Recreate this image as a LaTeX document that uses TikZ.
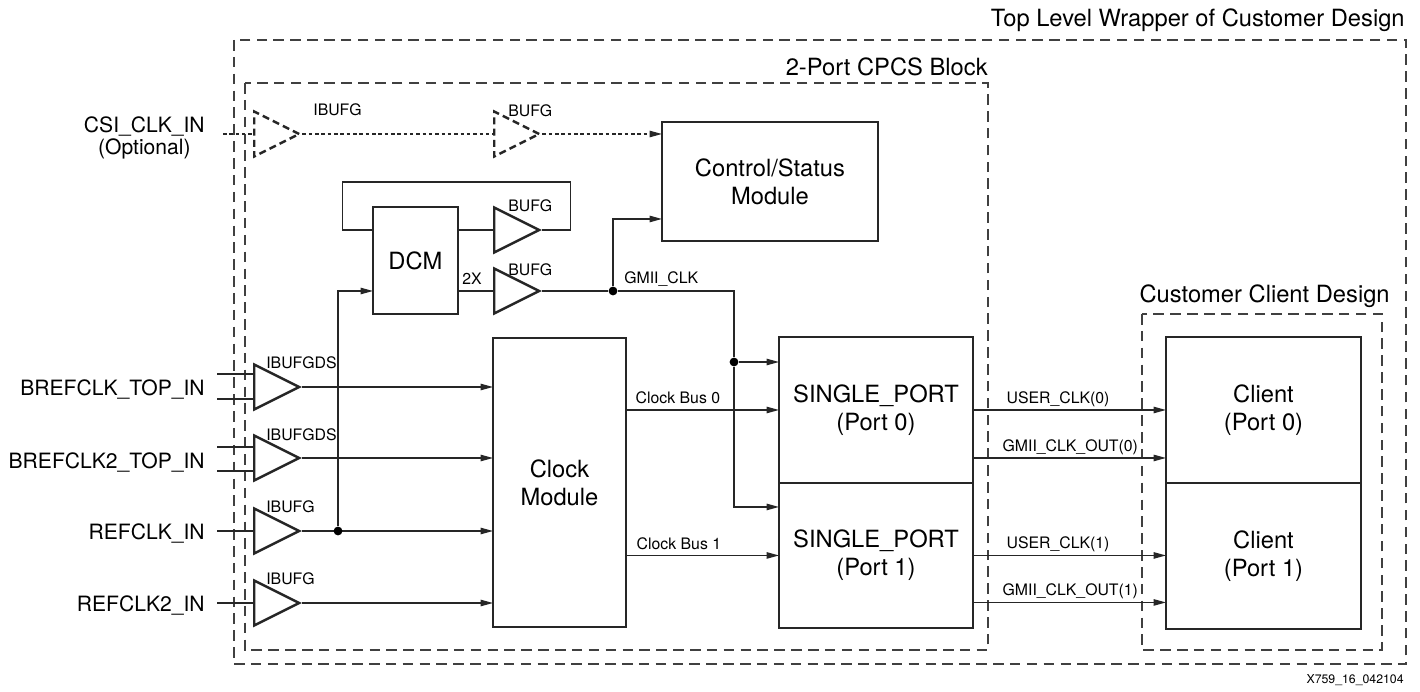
\documentclass[tikz,border=0pt]{standalone}
\usepackage{fontspec}
\setmainfont{TeX Gyre Heros}
\usetikzlibrary{arrows.meta,shapes.geometric}

\tikzset{
  wire/.style={draw=black!85, line width=0.8pt},
  arr/.style={wire, -{Triangle[length=7pt,width=3.6pt]}},
  dwire/.style={wire, dash pattern=on 2pt off 1.6pt},
  darr/.style={dwire, -{Triangle[length=7pt,width=3.6pt]}},
  block/.style={draw=black!85, line width=0.8pt, rectangle, inner sep=0, outer sep=0, align=center,
    anchor=north west, font=\fontsize{13.5}{16}\selectfont},
  frame/.style={draw=black!75, line width=0.8pt, dash pattern=on 6pt off 3.6pt},
  buf/.style={draw=black!85, line width=1.4pt, isosceles triangle, isosceles triangle stretches,
    inner sep=0, minimum width=0.9cm, minimum height=0.9cm, anchor=west},
  dbuf/.style={buf, dash pattern=on 4pt off 2.4pt},
  lbl/.style={font=\fontsize{9}{11}\selectfont, inner sep=0},
  pin/.style={font=\fontsize{12}{13}\selectfont, inner sep=0, align=center},
  title/.style={font=\fontsize{13.5}{16}\selectfont, inner sep=0, anchor=base east},
  dot/.style={circle, fill=black, inner sep=0, minimum size=5pt},
}

\begin{document}
\begin{tikzpicture}[x=0.02cm, y=-0.02cm]
  \useasboundingbox (0,0) rectangle (1420,692);

  % frames
  \draw[frame] (234,40) rectangle (1406,664);
  \draw[frame] (245,83) rectangle (988,650);
  \draw[frame] (1142,314) rectangle (1382,650);
  \node[title] (ttop) at (1405,27) {Top Level Wrapper of Customer Design};
  \node[title] (tcpcs) at (988,76) {2-Port CPCS Block};
  \node[title] (tccd) at (1390,303) {Customer Client Design};

  % blocks
  \node[block, minimum width=4.32cm, minimum height=2.38cm] (ctrl) at (662,122) {Control/Status\\Module};
  \node[block, minimum width=1.7cm, minimum height=2.14cm] (dcm) at (373,207) {DCM};
  \node[block, minimum width=2.66cm, minimum height=5.78cm] (clk) at (493,338) {Clock\\Module};
  \node[block, minimum width=3.88cm, minimum height=2.92cm] (sp0) at (779,337) {SINGLE\_PORT\\(Port 0)};
  \node[block, minimum width=3.88cm, minimum height=2.9cm] (sp1) at (sp0.south west) {SINGLE\_PORT\\(Port 1)};
  \node[block, minimum width=3.9cm, minimum height=2.92cm] (cl0) at (1166,337) {Client\\(Port 0)};
  \node[block, minimum width=3.9cm, minimum height=2.92cm] (cl1) at (cl0.south west) {Client\\(Port 1)};

  % buffers
  \node[dbuf] (ib0) at (253,134) {};
  \node[dbuf] (bg0) at (493,134) {};
  \node[buf] (bg1) at (493,230) {};
  \node[buf] (bg2) at (493,291) {};
  \node[buf] (b1) at (253,387) {};
  \node[buf] (b2) at (253,458) {};
  \node[buf] (b3) at (253,531) {};
  \node[buf] (b4) at (253,603) {};

  \node[lbl, anchor=west] (lib0) at (313,110) {IBUFG};
  \node[lbl, anchor=west] (lbg0) at (508,111) {BUFG};
  \node[lbl, anchor=west] (lbg1) at (508,206) {BUFG};
  \node[lbl, anchor=west] (lbg2) at (508,270) {BUFG};
  \node[lbl, anchor=west] (lb1) at (266,363) {IBUFGDS};
  \node[lbl, anchor=west] (lb2) at (266,435) {IBUFGDS};
  \node[lbl, anchor=west] (lb3) at (266,507) {IBUFG};
  \node[lbl, anchor=west] (lb4) at (266,579) {IBUFG};
  \node[lbl, anchor=west] (l2x) at (462,279) {2X};
  \node[lbl, anchor=west] (lgmii) at (624,279) {GMII\_CLK};

  % pins
  \node[pin, anchor=east] (pcsi) at (205,138) {CSI\_CLK\_IN\\(Optional)};
  \node[pin, anchor=base east] (pb1) at (205,396) {BREFCLK\_TOP\_IN};
  \node[pin, anchor=base east] (pb2) at (205,468) {BREFCLK2\_TOP\_IN};
  \node[pin, anchor=base east] (pb3) at (205,539) {REFCLK\_IN};
  \node[pin, anchor=base east] (pb4) at (205,611) {REFCLK2\_IN};
  \coordinate (icsi) at (223,134);
  \coordinate (i1a) at (217,374);
  \coordinate (i1b) at (217,399);
  \coordinate (i2a) at (217,447);
  \coordinate (i2b) at (217,471);
  \coordinate (i3) at (217,531);
  \coordinate (i4) at (217,603);

  % optional clock path
  \draw[dwire] (icsi) -- (ib0.west);
  \draw[dwire] (ib0.east) -- (bg0.west);
  \draw[darr] (bg0.east) -- (bg0.east -| ctrl.west);

  % input wires
  \draw[wire] (i1a) -- (i1a -| b1.west);
  \draw[wire] (i1b) -- (i1b -| b1.west);
  \draw[wire] (i2a) -- (i2a -| b2.west);
  \draw[wire] (i2b) -- (i2b -| b2.west);
  \draw[wire] (i3) -- (b3.west);
  \draw[wire] (i4) -- (b4.west);
  \draw[arr] (b1.east) -- (b1.east -| clk.west);
  \draw[arr] (b2.east) -- (b2.east -| clk.west);
  \draw[arr] (b3.east) -- (b3.east -| clk.west);
  \draw[arr] (b4.east) -- (b4.east -| clk.west);

  % DCM
  \node[dot] (j1) at (338,531) {};
  \draw[arr] (j1) |- (bg2.west -| dcm.west);
  \draw[wire] (dcm.east |- bg1.west) -- (bg1.west);
  \draw[wire] (dcm.east |- bg2.west) -- (bg2.west);
  \draw[wire] (bg1.east) -- ++(28,0) -- ++(0,-48) -- ++(-228,0) -- ++(0,48) -- (bg1.east -| dcm.west);

  % GMII_CLK
  \node[dot] (j2) at (613,291) {};
  \node[dot] (j3) at (734,362) {};
  \draw[wire] (bg2.east) -- (j2);
  \draw[arr] (j2) |- ([yshift=0.44cm]ctrl.south west);
  \draw[wire] (j2) -| (j3);
  \draw[arr] (j3) -- (j3 -| sp0.west);
  \draw[arr] (j3) |- ([yshift=-0.48cm]sp1.north west);

  % clock buses
  \draw[arr] (clk.east |- sp0.west) -- (sp0.west)
    node[lbl, pos=0, anchor=base west, xshift=0.18cm, yshift=0.12cm] {Clock Bus 0};
  \draw[arr] (clk.east |- sp1.west) -- (sp1.west)
    node[lbl, pos=0, anchor=base west, xshift=0.2cm, yshift=0.12cm] {Clock Bus 1};

  % outputs to client
  \draw[arr] (sp0.east) -- (sp0.east -| cl0.west)
    node[lbl, pos=0, anchor=base west, xshift=0.66cm, yshift=0.13cm] {USER\_CLK(0)};
  \draw[arr] ([yshift=-0.96cm]sp0.east) -- ([yshift=-0.96cm]sp0.east -| cl0.west)
    node[lbl, pos=0, anchor=base west, xshift=0.58cm, yshift=0.13cm] {GMII\_CLK\_OUT(0)};
  \draw[arr] (sp1.east) -- (sp1.east -| cl1.west)
    node[lbl, pos=0, anchor=base west, xshift=0.66cm, yshift=0.13cm] {USER\_CLK(1)};
  \draw[arr] ([yshift=-0.94cm]sp1.east) -- ([yshift=-0.94cm]sp1.east -| cl1.west)
    node[lbl, pos=0, anchor=base west, xshift=0.58cm, yshift=0.13cm] {GMII\_CLK\_OUT(1)};

  \node[inner sep=0, anchor=base east, font=\fontsize{7}{8}\selectfont] (fig) at (1404,683) {X759\_16\_042104};
\end{tikzpicture}
\end{document}
